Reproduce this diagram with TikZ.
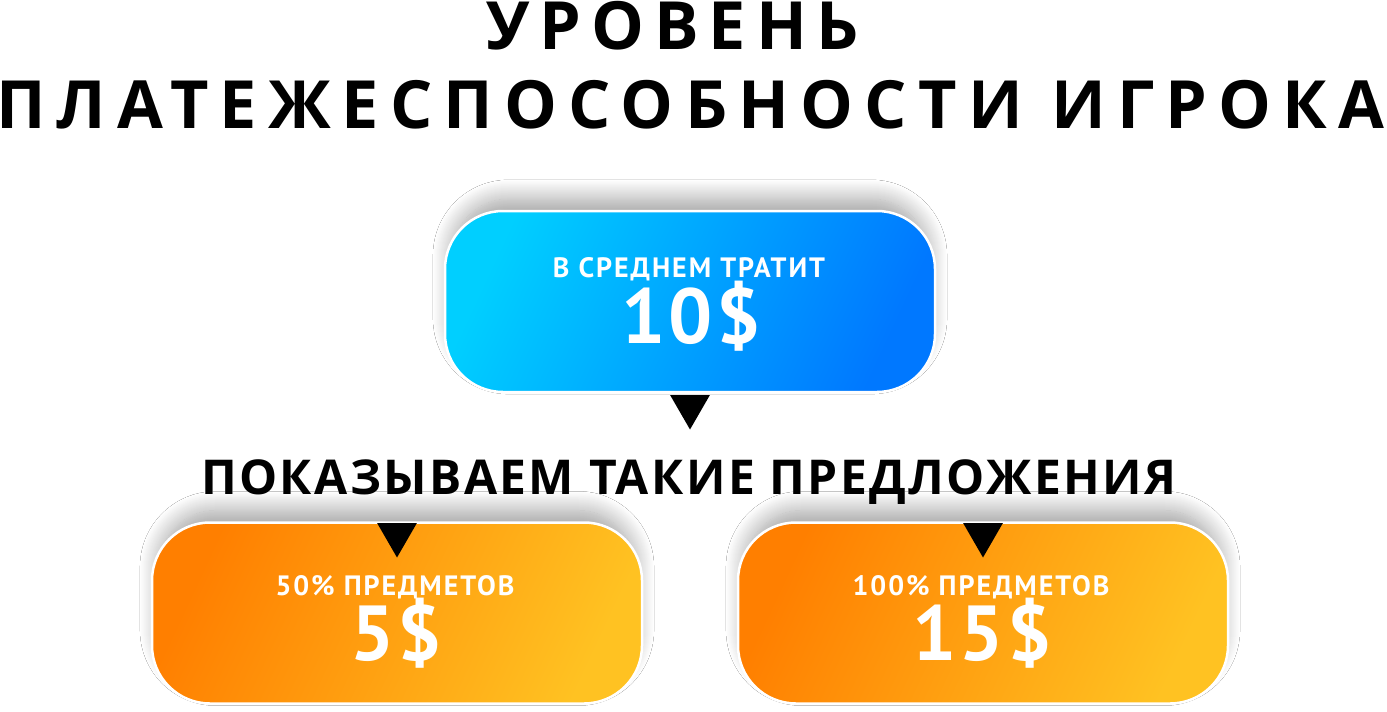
\documentclass[tikz,border=0pt]{standalone}
\usepackage{fontspec}
\setmainfont{PT Sans}
\newfontfamily\headfont{Open Sans}[LetterSpace=15]
\newfontfamily\headwide{Open Sans}[LetterSpace=16.8]
\newfontfamily\subfont{Open Sans}[LetterSpace=5]
\newfontfamily\capfont{PT Sans}[LetterSpace=7]
\newfontfamily\sumfont{PT Sans}[LetterSpace=4.5]
\usetikzlibrary{shapes.geometric,shadows.blur}
\definecolor{skyA}{HTML}{00CFFF}
\definecolor{skyB}{HTML}{0078FF}
\definecolor{sunA}{HTML}{FF7F00}
\definecolor{sunB}{HTML}{FFC222}

\begin{document}
\begin{tikzpicture}[x=1pt,y=-1pt,
    card/.style={rounded corners=58pt, draw=white, line width=2.5pt, minimum width=490pt, minimum height=181pt, inner sep=0pt,
        blur shadow={shadow xshift=0pt, shadow yshift=15pt, shadow scale=0.97, shadow blur radius=20pt, shadow blur steps=20, shadow opacity=38}},
    bluecard/.style={card, top color=skyA, bottom color=skyB, shading angle=65},
    orangecard/.style={card, top color=sunA, bottom color=sunB, shading angle=65},
    pointer/.style={regular polygon, regular polygon sides=3, shape border rotate=180, fill=black, minimum size=46pt, inner sep=0pt},
    cardsmall/.style={text=white, font=\capfont\bfseries\fontsize{28}{28}\selectfont, anchor=base, inner sep=0pt},
    cardbig/.style={text=white, font=\sumfont\bfseries\fontsize{78}{78}\selectfont, anchor=base, inner sep=0pt},
    headline/.style={anchor=base west, inner sep=0pt, font=\bfseries\fontsize{66.5}{66.5}\selectfont}]
    \fill[white] (0,0) rectangle (1387,712);
    \useasboundingbox (0,0) rectangle (1387,712);
        % title
        \node[headline] (title1) at (486,49) {\headfont УРОВЕНЬ};
        \node[headline] (title2) at (-4,128) {\headwide ПЛАТЕЖЕСПОСОБНОСТИ ИГРОКА};
        % average spend
        \node[bluecard] (avg) at (690,301.5) {};
        \node[cardsmall] (avgcap) at (689,277) {В СРЕДНЕМ ТРАТИТ};
        \node[cardbig] (avgsum) at (691,343) {10\$};
        \node[pointer] (ptrTop) at (690,406.5) {};
        \node[anchor=base west, inner sep=0pt, font=\subfont\bfseries\fontsize{48}{48}\selectfont] (offers) at (201,494) {ПОКАЗЫВАЕМ ТАКИЕ ПРЕДЛОЖЕНИЯ};
        % offers
        \foreach \cx/\pct/\amt/\nm in {397/50/5/L, 983/100/15/R} {
            \node[orangecard] (offer\nm) at (\cx,613) {};
            \node[cardsmall] (cap\nm) at (\cx-2,595) {\pct\% ПРЕДМЕТОВ};
            \node[cardbig] (sum\nm) at (\cx-1,660) {\amt\$};
            \node[pointer] (ptr\nm) at (\cx,534.5) {};
        }
    \end{tikzpicture}
\end{document}
